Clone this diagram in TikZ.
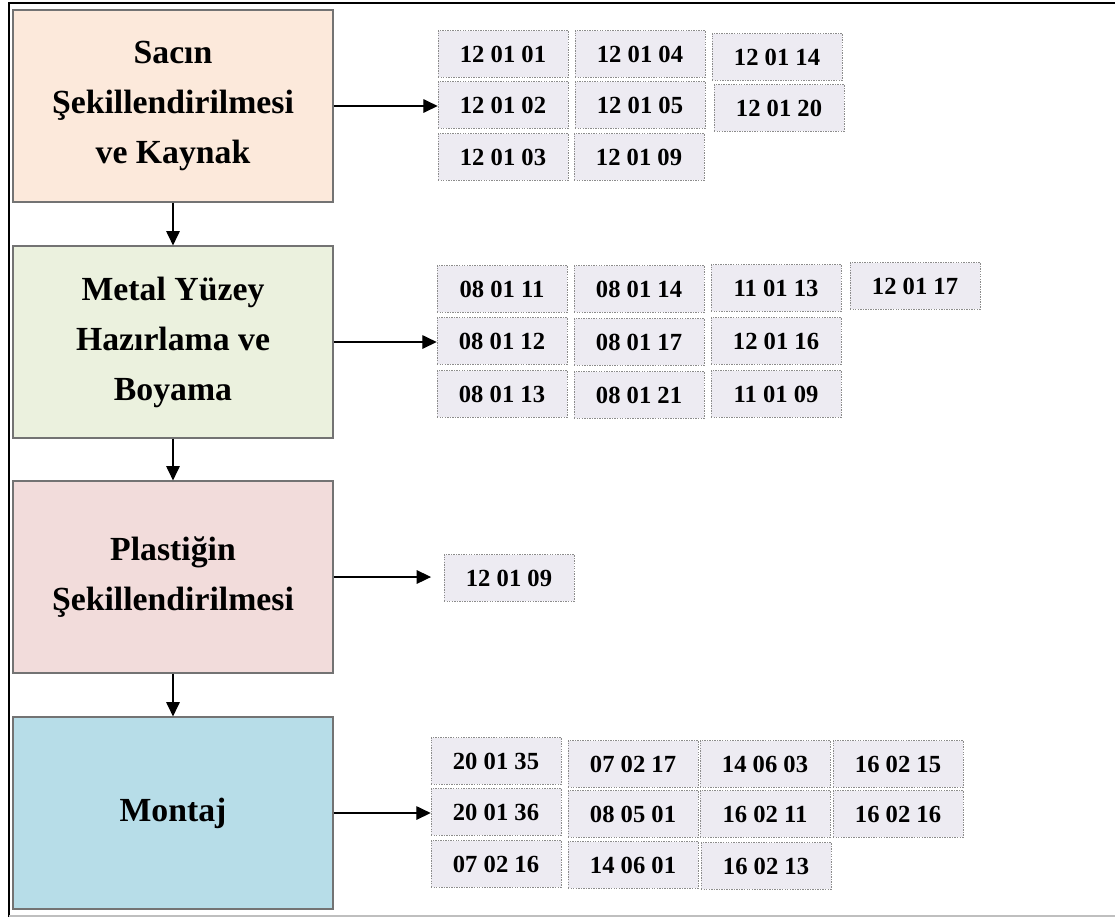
\documentclass[tikz,border=0pt]{standalone}
\usepackage{fontspec}
\setmainfont{Liberation Serif}
\usetikzlibrary{arrows.meta}
\definecolor{sacfill}{RGB}{252,233,219}
\definecolor{metalfill}{RGB}{235,241,222}
\definecolor{plasfill}{RGB}{242,220,219}
\definecolor{montfill}{RGB}{183,221,232}
\definecolor{codefill}{RGB}{237,235,242}
\begin{document}
\begin{tikzpicture}[x=0.025cm,y=-0.025cm,stage/.style={draw=black!55,line width=0.8pt,align=center,minimum width=8cm,minimum height=4.8cm,inner sep=4pt,font=\fontsize{24}{35.5}\selectfont\bfseries},code/.style={draw=black!45,dash pattern=on 1pt off 0.8pt,fill=codefill,minimum width=3.25cm,minimum height=1.17cm,inner sep=2pt,font=\fontsize{17.5}{20}\selectfont\bfseries},arrow/.style={-{Triangle[length=3.6mm,width=3.4mm]},line width=0.9pt}]
\useasboundingbox (0,0) rectangle (1115,917);
\draw[line width=1.2pt] (9,917) -- (9,3) -- (1115,3);
\draw[black!25,line width=0.8pt] (9,916) -- (1115,916);
\node[stage,fill=sacfill] (sac) at (173,106){Sacın\\Şekillendirilmesi\\ve Kaynak};
\node[stage,fill=metalfill] (metal) at (173,342){Metal Yüzey\\Hazırlama ve\\Boyama};
\node[stage,fill=plasfill] (plas) at (173,577){Plastiğin\\Şekillendirilmesi};
\node[stage,fill=montfill] (montaj) at (173,813){Montaj};
\draw[arrow] (sac) -- (metal);\draw[arrow] (metal) -- (plas);\draw[arrow] (plas) -- (montaj);
% sacin sekillendirilmesi
\node[code] (s11) at (503,54){12 01 01};
\node[code] (s12) at (503,105){12 01 02};
\node[code] (s13) at (503,157){12 01 03};
\node[code] (s21) at (640,54){12 01 04};
\node[code] (s22) at (640,105){12 01 05};
\node[code] (s23) at (639,157){12 01 09};
\node[code] (s31) at (777,57){12 01 14};
\node[code] (s32) at (779,108){12 01 20};
\draw[arrow] (sac.east) -- (sac.east -| s12.west);
% metal yuzey
\node[code] (m11) at (502,289){08 01 11};
\node[code] (m12) at (502,341){08 01 12};
\node[code] (m13) at (502,394){08 01 13};
\node[code] (m21) at (639,289){08 01 14};
\node[code] (m22) at (639,342){08 01 17};
\node[code] (m23) at (639,395){08 01 21};
\node[code] (m31) at (776,288){11 01 13};
\node[code] (m32) at (776,341){12 01 16};
\node[code] (m33) at (776,394){11 01 09};
\node[code] (m41) at (915,286){12 01 17};
\draw[arrow] (metal.east) -- (metal.east -| m12.west);
% plastik
\node[code] (p11) at (509,578){12 01 09};
\draw[arrow,shorten >=10\pgflinewidth] (plas.east) -- (plas.east -| p11.west);
% montaj
\node[code] (t11) at (496,761){20 01 35};
\node[code] (t12) at (496,812){20 01 36};
\node[code] (t13) at (496,864){07 02 16};
\node[code] (t21) at (633,764){07 02 17};
\node[code] (t22) at (633,814){08 05 01};
\node[code] (t23) at (633,865){14 06 01};
\node[code] (t31) at (765,764){14 06 03};
\node[code] (t32) at (765,814){16 02 11};
\node[code] (t33) at (766,866){16 02 13};
\node[code] (t41) at (898,764){16 02 15};
\node[code] (t42) at (898,814){16 02 16};
\draw[arrow] (montaj.east) -- (montaj.east -| t12.west);
\end{tikzpicture}
\end{document}
